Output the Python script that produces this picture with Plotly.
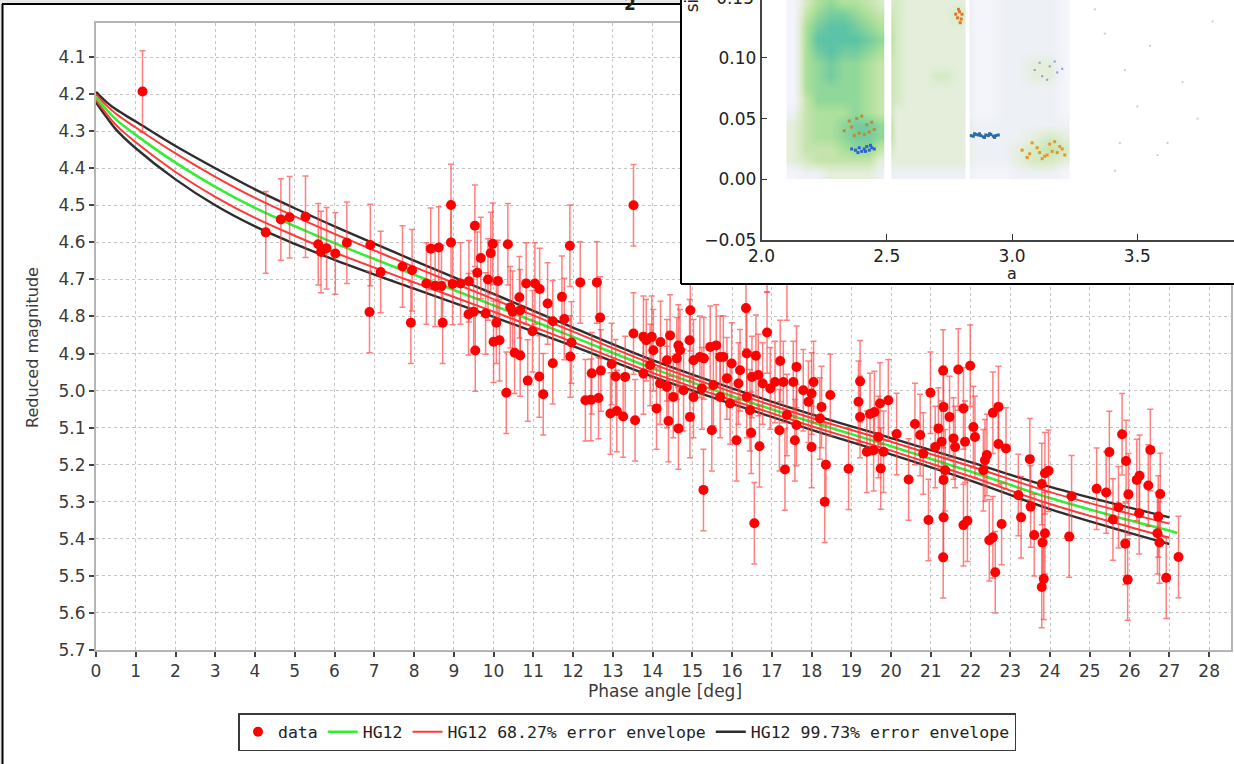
import plotly.graph_objects as go

W, H = 1234, 764

# ---------------- main chart data ----------------
phase_deg = [
    1.17, 4.27, 4.65, 4.87, 5.27, 5.59, 5.66, 5.80, 6.02, 6.31,
    6.88, 6.90, 7.16, 7.71, 7.92, 7.95, 8.31, 8.42, 8.53, 8.62,
    8.69, 8.72, 8.93, 8.93, 8.97, 9.17, 9.37, 9.38, 9.50, 9.53,
    9.54, 9.59, 9.68, 9.80, 9.86, 9.93, 9.98, 10.00, 10.07, 10.11,
    10.15, 10.32, 10.36, 10.42, 10.48, 10.53, 10.65, 10.67, 10.67, 10.82,
    10.86, 10.98, 11.04, 11.15, 11.16, 11.25, 11.36, 11.49, 11.49, 11.72,
    11.78, 11.92, 11.93, 11.96, 12.18, 12.31, 12.45, 12.47, 12.60, 12.64,
    12.68, 12.70, 12.94, 12.97, 13.07, 13.10, 13.26, 13.31, 13.52, 13.52,
    13.56, 13.77, 13.77, 13.84, 13.94, 13.98, 14.02, 14.10, 14.19, 14.20,
    14.36, 14.36, 14.40, 14.44, 14.52, 14.61, 14.65, 14.65, 14.69, 14.78,
    14.93, 14.94, 14.95, 15.03, 15.03, 15.19, 15.24, 15.28, 15.29, 15.45,
    15.49, 15.53, 15.60, 15.70, 15.70, 15.78, 15.87, 15.95, 15.99, 16.11,
    16.16, 16.20, 16.35, 16.37, 16.37, 16.45, 16.48, 16.50, 16.56, 16.60,
    16.66, 16.69, 16.77, 16.88, 16.88, 16.96, 17.08, 17.19, 17.21, 17.29,
    17.33, 17.38, 17.38, 17.54, 17.58, 17.62, 17.62, 17.79, 17.92, 18.00,
    18.00, 18.05, 18.21, 18.25, 18.33, 18.36, 18.47, 18.93, 19.18, 19.22,
    19.22, 19.39, 19.47, 19.56, 19.58, 19.68, 19.72, 19.74, 19.81, 19.93,
    20.14, 20.44, 20.60, 20.73, 20.81, 20.94, 20.99, 21.11, 21.19, 21.27,
    21.31, 21.31, 21.32, 21.32, 21.32, 21.36, 21.47, 21.57, 21.61, 21.69,
    21.82, 21.82, 21.86, 21.92, 21.99, 22.07, 22.11, 22.32, 22.36, 22.41,
    22.47, 22.56, 22.56, 22.62, 22.70, 22.70, 22.78, 22.89, 23.20, 23.27,
    23.49, 23.51, 23.60, 23.79, 23.79, 23.81, 23.84, 23.87, 23.87, 23.96,
    24.48, 24.54, 25.17, 25.41, 25.49, 25.58, 25.72, 25.81, 25.89, 25.91,
    25.95, 25.97, 26.18, 26.24, 26.25, 26.47, 26.52, 26.70, 26.72, 26.75,
    26.77, 26.92, 27.23,
]
reduced_mag = [
    4.193, 4.573, 4.538, 4.532, 4.531, 4.605, 4.626, 4.616, 4.630, 4.601,
    4.788, 4.607, 4.680, 4.665, 4.817, 4.675, 4.711, 4.617, 4.717, 4.614,
    4.718, 4.817, 4.499, 4.600, 4.712, 4.711, 4.794, 4.705, 4.787, 4.555,
    4.892, 4.682, 4.642, 4.792, 4.700, 4.629, 4.604, 4.868, 4.817, 4.704,
    4.864, 5.006, 4.605, 4.775, 4.787, 4.898, 4.748, 4.905, 4.783, 4.711,
    4.973, 4.840, 4.711, 4.962, 4.726, 5.010, 4.765, 4.813, 4.926, 4.747,
    4.807, 4.609, 4.908, 4.870, 4.708, 5.026, 5.025, 4.953, 4.708, 5.020,
    4.803, 4.946, 5.062, 4.928, 4.962, 5.055, 5.070, 4.963, 4.500, 4.846,
    5.080, 4.855, 4.954, 4.864, 4.931, 4.855, 4.891, 5.048, 4.981, 4.869,
    4.918, 4.990, 5.082, 4.851, 5.017, 4.913, 4.878, 5.102, 4.891, 4.999,
    4.864, 5.071, 4.783, 4.918, 5.017, 4.909, 4.994, 5.268, 4.913, 4.882,
    5.107, 4.985, 4.878, 4.909, 5.017, 4.909, 4.967, 5.035, 4.927, 5.134,
    4.981, 4.945, 4.777, 4.900, 5.017, 5.053, 5.114, 4.963, 5.358, 4.906,
    4.958, 5.150, 4.981, 4.843, 4.635, 4.994, 4.977, 5.107, 4.920, 4.977,
    5.213, 4.700, 5.066, 4.977, 5.134, 4.936, 5.093, 4.999, 5.030, 5.008,
    5.152, 4.977, 5.075, 5.044, 5.300, 5.200, 5.012, 5.211, 5.030, 4.975,
    5.071, 5.165, 5.063, 5.161, 5.058, 5.125, 5.035, 5.210, 5.165, 5.026,
    5.117, 5.240, 5.090, 5.120, 5.170, 5.349, 5.006, 5.152, 5.102, 5.138,
    4.946, 5.450, 5.044, 5.241, 5.342, 5.215, 5.071, 5.129, 5.152, 4.943,
    5.048, 5.363, 5.138, 5.351, 4.933, 5.098, 5.125, 5.215, 5.188, 5.174,
    5.404, 5.060, 5.396, 5.490, 5.044, 5.144, 5.360, 5.156, 5.282, 5.342,
    5.185, 5.313, 5.390, 5.252, 5.530, 5.410, 5.508, 5.223, 5.385, 5.216,
    5.394, 5.285, 5.265, 5.275, 5.166, 5.348, 5.315, 5.118, 5.413, 5.190,
    5.510, 5.280, 5.241, 5.331, 5.230, 5.256, 5.160, 5.385, 5.340, 5.410,
    5.279, 5.505, 5.449,
]
mag_err = [
    0.11, 0.11, 0.11, 0.11, 0.11, 0.11, 0.11, 0.11, 0.11, 0.11,
    0.11, 0.11, 0.11, 0.11, 0.11, 0.11, 0.11, 0.11, 0.11, 0.11,
    0.11, 0.11, 0.11, 0.11, 0.11, 0.11, 0.11, 0.11, 0.11, 0.11,
    0.11, 0.11, 0.11, 0.11, 0.11, 0.11, 0.11, 0.11, 0.11, 0.11,
    0.11, 0.11, 0.11, 0.11, 0.11, 0.11, 0.11, 0.11, 0.11, 0.11,
    0.11, 0.11, 0.11, 0.11, 0.11, 0.11, 0.11, 0.11, 0.11, 0.11,
    0.11, 0.11, 0.11, 0.11, 0.11, 0.11, 0.11, 0.11, 0.11, 0.11,
    0.11, 0.11, 0.11, 0.11, 0.10, 0.11, 0.11, 0.11, 0.11, 0.11,
    0.11, 0.11, 0.11, 0.11, 0.11, 0.11, 0.11, 0.11, 0.11, 0.11,
    0.11, 0.11, 0.11, 0.11, 0.11, 0.11, 0.11, 0.11, 0.11, 0.11,
    0.11, 0.11, 0.11, 0.11, 0.11, 0.11, 0.11, 0.11, 0.11, 0.11,
    0.11, 0.11, 0.11, 0.11, 0.11, 0.11, 0.11, 0.11, 0.11, 0.11,
    0.11, 0.11, 0.11, 0.11, 0.11, 0.11, 0.11, 0.11, 0.11, 0.11,
    0.11, 0.11, 0.11, 0.11, 0.10, 0.11, 0.11, 0.11, 0.11, 0.11,
    0.11, 0.11, 0.11, 0.11, 0.11, 0.11, 0.11, 0.11, 0.11, 0.11,
    0.11, 0.11, 0.11, 0.11, 0.11, 0.11, 0.11, 0.11, 0.11, 0.11,
    0.11, 0.11, 0.11, 0.11, 0.11, 0.11, 0.11, 0.11, 0.11, 0.11,
    0.11, 0.11, 0.11, 0.11, 0.11, 0.11, 0.11, 0.11, 0.11, 0.11,
    0.11, 0.11, 0.11, 0.11, 0.11, 0.11, 0.11, 0.11, 0.11, 0.11,
    0.11, 0.11, 0.11, 0.11, 0.11, 0.11, 0.11, 0.11, 0.11, 0.11,
    0.11, 0.11, 0.11, 0.11, 0.11, 0.11, 0.11, 0.11, 0.11, 0.11,
    0.11, 0.11, 0.11, 0.11, 0.11, 0.11, 0.11, 0.11, 0.11, 0.11,
    0.11, 0.11, 0.11, 0.11, 0.11, 0.11, 0.11, 0.11, 0.11, 0.11,
    0.11, 0.11, 0.11, 0.11, 0.11, 0.11, 0.11, 0.11, 0.11, 0.11,
    0.11, 0.11, 0.11,
]

model_phase = [0, 0.25, 0.5, 1, 2, 3, 4, 5, 6, 8, 10, 12, 14, 16, 18, 20, 22, 24, 26, 27, 27.2]
hg12_mag = [4.208, 4.240, 4.268, 4.310, 4.385, 4.450, 4.507, 4.556, 4.602, 4.687, 4.770,
            4.855, 4.940, 5.015, 5.085, 5.150, 5.218, 5.290, 5.350, 5.378, 5.384]
env_phase = [0, 0.25, 0.5, 1, 2, 3, 4, 5, 6, 8, 10, 12, 14, 16, 18, 20, 22, 24, 26, 27]
env68_upper = [4.200, 4.229, 4.253, 4.290, 4.360, 4.423, 4.480, 4.530, 4.577, 4.666,
               4.753, 4.841, 4.928, 5.004, 5.074, 5.138, 5.204, 5.274, 5.332, 5.359]
env68_lower = [4.216, 4.251, 4.283, 4.330, 4.410, 4.477, 4.534, 4.582, 4.627, 4.708,
               4.787, 4.869, 4.952, 5.026, 5.096, 5.162, 5.232, 5.306, 5.368, 5.397]
env99_upper = [4.194, 4.220, 4.241, 4.274, 4.340, 4.400, 4.457, 4.508, 4.557, 4.649,
               4.739, 4.830, 4.918, 4.994, 5.064, 5.128, 5.193, 5.260, 5.316, 5.342]
env99_lower = [4.222, 4.260, 4.295, 4.346, 4.430, 4.500, 4.557, 4.604, 4.647, 4.725,
               4.801, 4.880, 4.962, 5.036, 5.106, 5.172, 5.243, 5.320, 5.384, 5.414]

x_tick_vals = [0, 1, 2, 3, 4, 5, 6, 7, 8, 9, 10, 11, 12, 13, 14, 15, 16, 17, 18, 19,
               20, 21, 22, 23, 24, 25, 26, 27, 28]
y_tick_vals = [4.1, 4.2, 4.3, 4.4, 4.5, 4.6, 4.7, 4.8, 4.9, 5.0, 5.1, 5.2, 5.3, 5.4, 5.5, 5.6, 5.7]
y_tick_text = ["4.1", "4.2", "4.3", "4.4", "4.5", "4.6", "4.7", "4.8", "4.9", "5.0",
               "5.1", "5.2", "5.3", "5.4", "5.5", "5.6", "5.7"]

# ---------------- inset data (a vs sin i), density ----------------
inset_a_edges = [2.10, 2.15, 2.20, 2.25, 2.30, 2.35, 2.40, 2.45, 2.49, 2.52, 2.56, 2.60,
                 2.64, 2.68, 2.72, 2.76, 2.815, 2.83, 2.88, 2.94, 3.00, 3.06, 3.12, 3.18, 3.23]
inset_sini_edges = [0.00, 0.01, 0.02, 0.03, 0.04, 0.05, 0.06, 0.07, 0.08, 0.09, 0.10,
                    0.11, 0.12, 0.13, 0.14, 0.15, 0.16]
inset_density_rows = [   # bottom (sin i 0.00) to top (0.16)
    "12233332 2 2222222 2 1112221",
    "34555553 3 3333333 3 2223443",
    "35556775 5 3333333 3 2223454",
    "35667887 7 3333333 3 2222343",
    "35667887 7 3333333 3 2222222",
    "25666765 5 3333333 3 1122221",
    "15777765 5 4333333 3 1122221",
    "16777765 5 4333333 3 1122221",
    "16787765 5 4333443 3 1122331",
    "16787765 5 4333333 3 1122331",
    "16898876 6 4333333 3 1122221",
    "16999987 7 4333333 3 1122221",
    "16899876 6 4333333 3 1122221",
    "15788765 5 4333334 4 1122221",
    "14676654 4 4333333 3 1122221",
    "14665554 4 4333333 3 1122221",
]
kirkwood_gaps = [(2.490, 2.518), (2.814, 2.831)]
nysa_a = [2.36, 2.375, 2.39, 2.40, 2.41, 2.42, 2.43, 2.44, 2.45, 2.385, 2.415, 2.435]
nysa_sini = [0.025, 0.024, 0.026, 0.023, 0.025, 0.027, 0.024, 0.026, 0.025, 0.022, 0.023, 0.028]
koronis_a = [2.835, 2.845, 2.855, 2.865, 2.875, 2.885, 2.895, 2.905, 2.915, 2.925, 2.935,
             2.945, 2.85, 2.87, 2.89, 2.91, 2.93]
koronis_sini = [0.036, 0.0355, 0.037, 0.0365, 0.036, 0.035, 0.0365, 0.036, 0.037, 0.0355,
                0.036, 0.0365, 0.0375, 0.0375, 0.0345, 0.0375, 0.0345]
flora_a = [2.33, 2.36, 2.39, 2.42, 2.45, 2.35, 2.38, 2.41, 2.44, 2.37, 2.40, 2.43]
flora_sini = [0.040, 0.043, 0.038, 0.045, 0.041, 0.048, 0.050, 0.037, 0.047, 0.036, 0.052, 0.039]
orange_a = [2.775, 2.782, 2.79, 2.797, 2.80, 2.786, 2.793]
orange_sini = [0.136, 0.133, 0.138, 0.132, 0.136, 0.140, 0.129]
themis_a = [3.04, 3.07, 3.10, 3.13, 3.16, 3.19, 3.21, 3.08, 3.12, 3.15, 3.18, 3.20, 3.06,
            3.11, 3.14, 3.17]
themis_sini = [0.024, 0.021, 0.026, 0.019, 0.023, 0.027, 0.020, 0.030, 0.017, 0.029, 0.022,
               0.025, 0.018, 0.022, 0.020, 0.031]
eos_a = [3.09, 3.12, 3.15, 3.18, 3.11, 3.14, 3.17, 3.20]
eos_sini = [0.090, 0.085, 0.093, 0.088, 0.096, 0.082, 0.097, 0.091]
outer_a = [3.33, 3.37, 3.41, 3.45, 3.50, 3.55, 3.62, 3.68, 3.74, 3.80, 3.43, 3.58]
outer_sini = [0.14, 0.12, 0.007, 0.09, 0.06, 0.11, 0.03, 0.08, 0.05, 0.13, 0.03, 0.02]
inset_x_ticks = [2.0, 2.5, 3.0, 3.5]
inset_x_text = ["2.0", "2.5", "3.0", "3.5"]
inset_y_ticks = [-0.05, 0.0, 0.05, 0.10]
inset_y_text = ["\u22120.05", "0.00", "0.05", "0.10"]


def fx(px):
    return px / W


def fy(py):
    return 1 - py / H


fig = go.Figure()

# envelopes & model
for name, up, lo, color, width, rank in [
    ("HG12 99.73% error envelope", env99_upper, env99_lower, "#2e2e2e", 2.4, 4),
    ("HG12 68.27% error envelope", env68_upper, env68_lower, "#ff3838", 2.0, 3),
]:
    fig.add_trace(go.Scatter(x=env_phase, y=up, mode="lines", name=name, legendgroup=name,
                             legendrank=rank, line=dict(color=color, width=width, shape="spline"),
                             hoverinfo="skip"))
    fig.add_trace(go.Scatter(x=env_phase, y=lo, mode="lines", name=name, legendgroup=name,
                             showlegend=False, line=dict(color=color, width=width, shape="spline"),
                             hoverinfo="skip"))
fig.add_trace(go.Scatter(x=model_phase, y=hg12_mag, mode="lines", name="HG12", legendrank=2,
                         line=dict(color="#33ee33", width=2.6, shape="spline")))
fig.add_trace(go.Scatter(
    x=phase_deg, y=reduced_mag, mode="markers", name="data", legendrank=1,
    marker=dict(color="#ff0000", size=10, line=dict(width=0)),
    error_y=dict(type="data", array=mag_err, visible=True, color="rgba(255,60,60,0.65)",
                 thickness=1.5, width=3),
))

# cover subplot (white background of the inset picture)
fig.add_trace(go.Scatter(x=[0.5], y=[0.5], mode="markers", marker=dict(opacity=0),
                         showlegend=False, hoverinfo="skip", xaxis="x2", yaxis="y2"))

# inset
z = [[int(c) for c in row.replace(" ", "")] for row in inset_density_rows]
fig.add_trace(go.Heatmap(
    x=inset_a_edges, y=inset_sini_edges, z=z, xaxis="x3", yaxis="y3", zmin=0, zmax=9,
    showscale=False, hoverinfo="skip", zsmooth="best",
    colorscale=[[0.0, "#ffffff"], [0.111, "#f4f5fb"], [0.222, "#edf0f4"], [0.333, "#e4eedb"],
                [0.444, "#d6eac4"], [0.556, "#c5e4ad"], [0.667, "#ade09c"], [0.778, "#90d79a"],
                [0.889, "#74cc9e"], [1.0, "#5bc3a6"]],
))
for ax, sy, col, sz in [
    (flora_a, flora_sini, "#c08a34", 3),
    (nysa_a, nysa_sini, "#2f5fd0", 3),
    (koronis_a, koronis_sini, "#2c6aa8", 3),
    (orange_a, orange_sini, "#e0762a", 3),
    (themis_a, themis_sini, "#e8952c", 3),
    (eos_a, eos_sini, "#8a98d8", 2),
    (outer_a, outer_sini, "#c8cde8", 2),
]:
    fig.add_trace(go.Scatter(x=ax, y=sy, mode="markers", xaxis="x3", yaxis="y3",
                             showlegend=False, hoverinfo="skip",
                             marker=dict(color=col, size=sz, symbol="square", line=dict(width=0))))

tick_font = dict(family="DejaVu Sans", size=17, color="#3a3a3a")
inset_font = dict(family="DejaVu Sans", size=17, color="#222222")
no_line = dict(width=0)
clear = "rgba(0,0,0,0)"

shapes = [
    dict(type="rect", xref="paper", yref="paper", x0=fx(2), x1=1.0, y0=0, y1=fy(4),
         fillcolor="white", line=no_line, layer="below"),
]
for g0, g1 in kirkwood_gaps:
    shapes.append(dict(type="rect", xref="x3", yref="y3", x0=g0, x1=g1, y0=-0.002, y1=0.17,
                       fillcolor="white", line=no_line, layer="above"))
shapes += [
    dict(type="line", xref="paper", yref="paper", x0=fx(2), x1=fx(681), y0=fy(4), y1=fy(4),
         line=dict(color="black", width=2), layer="above"),
    dict(type="line", xref="paper", yref="paper", x0=fx(2.5), x1=fx(2.5), y0=0, y1=fy(4),
         line=dict(color="black", width=2), layer="above"),
    dict(type="line", xref="paper", yref="paper", x0=fx(681), x1=fx(681), y0=fy(284), y1=1,
         line=dict(color="black", width=2), layer="above"),
    dict(type="line", xref="paper", yref="paper", x0=fx(681), x1=1, y0=fy(284), y1=fy(284),
         line=dict(color="black", width=2), layer="above"),
    # texts that are cut by the top edge of the picture
    dict(type="rect", xref="paper", yref="paper", x0=fx(682), x1=fx(700), y0=fy(16),
         y1=fy(-26), fillcolor=clear, line=no_line, layer="above",
         label=dict(text="sin i", textangle=-90, textposition="middle center", padding=0,
                    font=dict(family="DejaVu Sans", size=17, color="#222"))),
    dict(type="rect", xref="paper", yref="paper", x0=fx(700), x1=fx(757), y0=fy(5),
         y1=fy(-11), fillcolor=clear, line=no_line, layer="above",
         label=dict(text="0.15", textposition="middle right", padding=0, font=inset_font)),
    dict(type="rect", xref="paper", yref="paper", x0=fx(618), x1=fx(642), y0=fy(11),
         y1=fy(-5), fillcolor=clear, line=no_line, layer="above",
         label=dict(text="<b>2</b>", textposition="middle center", padding=0,
                    font=dict(family="DejaVu Sans", size=17, color="#222"))),
]

fig.update_layout(
    width=W, height=H, margin=dict(l=0, r=0, t=0, b=0, pad=0, autoexpand=False),
    paper_bgcolor="#e8e8e8", plot_bgcolor="white",
    legend=dict(orientation="h", x=fx(627), xanchor="center", y=fy(713), yanchor="top",
                bgcolor="white", bordercolor="#3a3a3a", borderwidth=1.5,
                font=dict(family="DejaVu Sans Mono", size=16.5, color="#222"),
                itemwidth=30),
    xaxis=dict(domain=[fx(96), fx(1231)], range=[0, 28.55], tickvals=x_tick_vals,
               ticks="outside", ticklen=5, tickwidth=1.5, tickcolor="#444",
               showline=True, linecolor="#b5b5b5", linewidth=2, mirror=True,
               showgrid=True, gridcolor="#c4c4c4", gridwidth=1.3, griddash="dot",
               zeroline=False, tickfont=tick_font, anchor="y", automargin=False),
    yaxis=dict(domain=[fy(650), fy(23)], range=[5.7, 4.008], tickvals=y_tick_vals,
               ticktext=y_tick_text, ticks="outside", ticklen=5, tickwidth=1.5,
               tickcolor="#444", showline=True, linecolor="#b5b5b5", linewidth=2,
               mirror=True, showgrid=True, gridcolor="#c4c4c4", gridwidth=1.3,
               griddash="dot", zeroline=False, tickfont=tick_font, anchor="x",
               automargin=False),
    xaxis2=dict(domain=[fx(680), 1.0], range=[0, 1], visible=False, anchor="y2"),
    yaxis2=dict(domain=[fy(284), 1.0], range=[0, 1], visible=False, anchor="x2"),
    xaxis3=dict(domain=[fx(761.5), 1.0], range=[2.0, 3.8855], tickvals=inset_x_ticks,
                ticktext=inset_x_text, ticks="inside", ticklen=6, tickwidth=1.3,
                tickcolor="#333", showline=True, linecolor="#444", linewidth=1.6,
                showgrid=False, zeroline=False, tickfont=inset_font, anchor="y3",
                automargin=False),
    yaxis3=dict(domain=[fy(240), 1.0], range=[-0.05, 0.1477], tickvals=inset_y_ticks,
                ticktext=inset_y_text, ticks="inside", ticklen=6, tickwidth=1.3,
                tickcolor="#333", showline=True, linecolor="#444", linewidth=1.6,
                showgrid=False, zeroline=False, tickfont=inset_font, anchor="x3",
                automargin=False),
    shapes=shapes,
    annotations=[
        dict(text="Phase angle [deg]", x=fx(665), y=fy(691), xref="paper", yref="paper",
             xanchor="center", yanchor="middle", showarrow=False,
             font=dict(family="DejaVu Sans", size=17, color="#3a3a3a")),
        dict(text="Reduced magnitude", x=fx(32), y=fy(348), xref="paper", yref="paper",
             xanchor="center", yanchor="middle", showarrow=False, textangle=-90,
             font=dict(family="DejaVu Sans", size=16, color="#3a3a3a")),
        dict(text="a", x=fx(1012), y=fy(273), xref="paper", yref="paper",
             xanchor="center", yanchor="middle", showarrow=False,
             font=dict(family="DejaVu Sans", size=16, color="#222")),
    ],
)

fig.write_html("out.html", config={"displayModeBar": False})
